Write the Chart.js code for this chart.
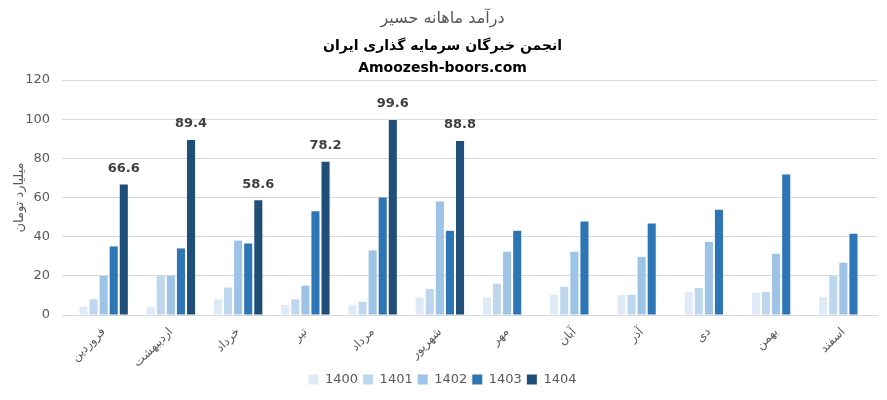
<!DOCTYPE html>
<html>
<head>
<meta charset="utf-8">
<script src="https://cdn.jsdelivr.net/npm/chart.js@4.4.1/dist/chart.umd.min.js"></script>
<style>
    html, body { margin: 0; padding: 0; background: #fff; }
    #wrap { width: 887px; height: 400px; }
</style>
</head>
<body>
<div id="wrap"><canvas id="revenueChart"></canvas></div>
<script>
const months = ["فروردین", "اردیبهشت", "خرداد", "تیر", "مرداد", "شهریور", "مهر", "آبان", "آذر", "دی", "بهمن", "اسفند"];
const years = ["1400", "1401", "1402", "1403", "1404"];
const y1400 = [4.2, 4.2, 8, 5.1, 5.3, 9, 9, 10.3, 10.3, 11.8, 11.3, 9.2];
const y1401 = [8, 20, 14, 8, 6.7, 13.3, 16, 14.4, 10.3, 13.8, 11.8, 20];
const y1402 = [20, 20, 38, 15, 33, 58, 32.3, 32.3, 29.7, 37.4, 31.3, 26.7];
const y1403 = [35, 34, 36.5, 53, 60, 43, 43, 47.7, 46.7, 53.8, 71.8, 41.5];
const y1404 = [66.6, 89.4, 58.6, 78.2, 99.6, 88.8, null, null, null, null, null, null];
const yTicks = [0, 20, 40, 60, 80, 100, 120];

const colors = ["#deebf7", "#bdd7ee", "#9dc3e6", "#2e75b6", "#1f4e79"];
const series = [y1400, y1401, y1402, y1403, y1404];

// labels above the 1404 bars
const lastYearLabels = {
    id: "lastYearLabels",
    afterDatasetsDraw(chart) {
        const ctx = chart.ctx;
        const meta = chart.getDatasetMeta(4);
        ctx.save();
        ctx.font = "bold 13px 'DejaVu Sans', sans-serif";
        ctx.fillStyle = "#404040";
        ctx.textAlign = "center";
        ctx.textBaseline = "middle";
        meta.data.forEach(function (bar, i) {
            const v = y1404[i];
            if (v === null) return;
            ctx.fillText(v.toFixed(1), bar.x, bar.y - 16);
        });
        ctx.restore();
    }
};

const ctx = document.getElementById("revenueChart").getContext("2d");
new Chart(ctx, {
    type: "bar",
    data: {
        labels: months,
        datasets: years.map((y, i) => ({
            label: y,
            data: series[i],
            backgroundColor: colors[i],
            categoryPercentage: 0.75,
            barPercentage: 0.8,
        })),
    },
    options: {
        responsive: true,
        maintainAspectRatio: false,
        animation: false,
        layout: { padding: { left: 8, right: 10, top: 7, bottom: 4 } },
        plugins: {
            title: {
                display: true,
                text: "درآمد ماهانه حسیر",
                color: "#595959",
                font: { family: "'DejaVu Sans', sans-serif", size: 16, weight: "normal" },
                padding: { top: 2, bottom: 7 },
            },
            subtitle: {
                display: true,
                text: ["انجمن خبرگان سرمایه گذاری ایران", "Amoozesh-boors.com"],
                color: "#000",
                font: { family: "'DejaVu Sans', sans-serif", size: 14, weight: "bold", lineHeight: 1.6 },
                padding: { bottom: 0 },
            },
            legend: {
                position: "bottom",
                labels: {
                    boxWidth: 10,
                    boxHeight: 10,
                    color: "#595959",
                    font: { family: "'DejaVu Sans', sans-serif", size: 13 },
                    padding: 5,
                },
            },
            tooltip: { enabled: false },
        },
        scales: {
            x: {
                grid: { display: false },
                border: { color: "#d9d9d9" },
                afterFit(axis) { axis.height = 53; },
                ticks: {
                    color: "#595959",
                    font: { family: "'DejaVu Sans', sans-serif", size: 12 },
                    maxRotation: 45,
                    minRotation: 45,
                    padding: 2,
                },
            },
            y: {
                min: 0,
                max: 120,
                afterBuildTicks(axis) {
                    axis.ticks = yTicks.map((v) => ({ value: v }));
                },
                afterFit(axis) { axis.width = 62; },
                grid: { color: "#d9d9d9" },
                border: { display: false },
                ticks: {
                    color: "#595959",
                    font: { family: "'DejaVu Sans', sans-serif", size: 13 },
                    padding: 12,
                },
                title: {
                    display: true,
                    text: "میلیارد تومان",
                    color: "#595959",
                    font: { family: "'DejaVu Sans', sans-serif", size: 13 },
                },
            },
        },
    },
    plugins: [lastYearLabels],
});
</script>
</body>
</html>
